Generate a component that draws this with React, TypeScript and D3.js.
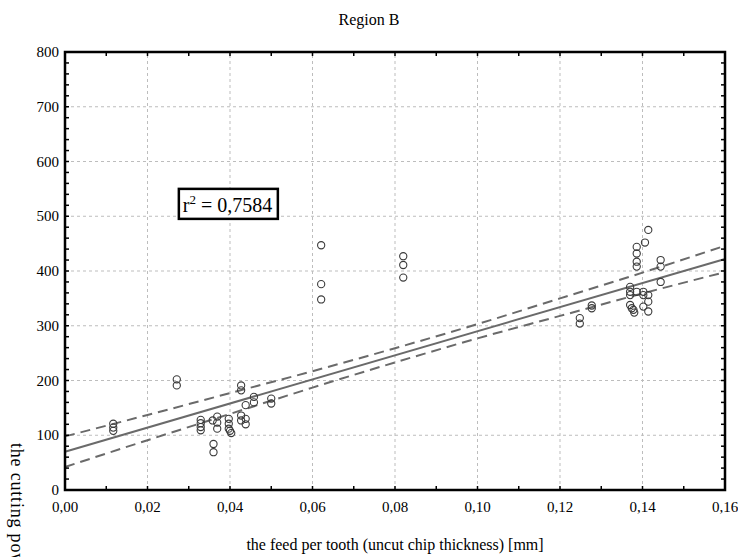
import React from "react";
import * as d3 from "d3";

// feed per tooth [mm] for each measured point
const feedPerTooth = [
  0.0117, 0.0117, 0.0117,
  0.0271, 0.0271,
  0.0329, 0.0329, 0.0329, 0.0329,
  0.0358,
  0.036, 0.036,
  0.0369, 0.0369, 0.0369,
  0.0397, 0.0397, 0.0397,
  0.04, 0.0403,
  0.0427, 0.0427, 0.0427, 0.0427,
  0.0438, 0.0438, 0.0438,
  0.0458, 0.0458,
  0.05, 0.05,
  0.0621, 0.0621, 0.0621,
  0.082, 0.082, 0.082,
  0.1248, 0.1248,
  0.1277, 0.1277,
  0.137, 0.137, 0.137, 0.137,
  0.1374, 0.1378, 0.138,
  0.1386, 0.1386, 0.1386, 0.1386, 0.1386,
  0.1402, 0.1402, 0.1402,
  0.1406,
  0.1414, 0.1414, 0.1414, 0.1414,
  0.1444, 0.1444, 0.1444,
];

// cutting power for the same points
const cuttingPower = [
  121, 114, 108,
  202, 191,
  128, 122, 115, 109,
  127,
  84, 69,
  134, 123, 112,
  130, 121, 112,
  108, 104,
  191, 182, 136, 127,
  155, 130, 120,
  170, 160,
  167, 158,
  447, 376, 348,
  427, 411, 388,
  314, 304,
  337, 332,
  371, 362, 356, 338,
  332, 329, 324,
  444, 432, 417, 408, 362,
  362, 356, 335,
  452,
  475, 356, 344, 326,
  420, 408, 380,
];

// fitted line and its confidence band
const fitX = [0, 0.16];
const fitY = [70, 422];
const bandX = [0, 0.02, 0.04, 0.06, 0.08, 0.1, 0.12, 0.14, 0.16];
const bandUpper = [98, 137, 177, 217, 259, 303, 350, 397, 446];
const bandLower = [42, 91, 139, 187, 233, 277, 318, 359, 398];

const rSquared = "0,7584";
const title = "Region B";
const xTitle = "the feed per tooth (uncut chip thickness) [mm]";
const yTitle = "the cutting power [W]";

const W = 738;
const H = 557;
const margin = { top: 52, right: 13, bottom: 67, left: 65 };
const font = "'Liberation Serif', 'Times New Roman', serif";

export default function App() {
  const x = d3.scaleLinear().domain([0, 0.16]).range([margin.left, W - margin.right]);
  const y = d3.scaleLinear().domain([0, 800]).range([H - margin.bottom, margin.top]);

  const xMajor = x.ticks(8);
  const xMinor = x.ticks(16);
  const yMajor = y.ticks(8);
  const yMinor = y.ticks(40);
  const fmtX = (v: number) => d3.format(".2f")(v).replace(".", ",");

  const [x0, x1] = x.range();
  const [y0, y1] = y.range();

  const fitLine = d3
    .line<number>()
    .x((d) => x(d))
    .y((_, i) => y(fitY[i]));

  const band = (vals: number[]) =>
    d3
      .line<number>()
      .x((d) => x(d))
      .y((_, i) => y(vals[i]))
      .curve(d3.curveMonotoneX)(bandX) || "";

  return (
    <svg
      width={W}
      height={H}
      style={{ position: "absolute", left: 0, top: 0, background: "#fff" }}
      fontFamily={font}
    >
      {/* grid */}
      {xMajor
        .filter((d) => d > 0 && d < 0.16)
        .map((d) => (
          <line key={"gx" + d} x1={x(d)} x2={x(d)} y1={y0} y2={y1} stroke="#bdbdbd" strokeDasharray="3,3" />
        ))}
      {yMajor
        .filter((d) => d > 0 && d < 800)
        .map((d) => (
          <line key={"gy" + d} x1={x0} x2={x1} y1={y(d)} y2={y(d)} stroke="#bdbdbd" strokeDasharray="3,3" />
        ))}

      {/* regression + confidence band */}
      <path d={band(bandUpper)} fill="none" stroke="#6a6a6a" strokeWidth={2} strokeDasharray="10,6" />
      <path d={band(bandLower)} fill="none" stroke="#6a6a6a" strokeWidth={2} strokeDasharray="10,6" />
      <path d={fitLine(fitX) || ""} fill="none" stroke="#6a6a6a" strokeWidth={2} />

      {/* points */}
      {feedPerTooth.map((f, i) => (
        <circle key={i} cx={x(f)} cy={y(cuttingPower[i])} r={3.6} fill="none" stroke="#3a3a3a" strokeWidth={1.1} />
      ))}

      {/* r2 box */}
      <g transform={`translate(${x(0.0276)},${y(550)})`}>
        <rect width={99} height={30} fill="#fff" stroke="#000" strokeWidth={2.5} />
        <text x={4} y={23} fontSize={20}>
          r<tspan fontSize={13} dy={-8}>2</tspan>
          <tspan dy={8}> = {rSquared}</tspan>
        </text>
      </g>

      {/* frame */}
      <rect x={x0} y={y1} width={x1 - x0} height={y0 - y1} fill="none" stroke="#000" strokeWidth={2.5} />
      {xMinor.map((d) => (
        <g key={"tx" + d}>
          <line x1={x(d)} x2={x(d)} y1={y0} y2={y0 - 4} stroke="#000" strokeWidth={1.5} />
          <line x1={x(d)} x2={x(d)} y1={y1} y2={y1 + 4} stroke="#000" strokeWidth={1.5} />
        </g>
      ))}
      {yMinor.map((d) => (
        <g key={"ty" + d}>
          <line x1={x0} x2={x0 + 4} y1={y(d)} y2={y(d)} stroke="#000" strokeWidth={1.5} />
          <line x1={x1} x2={x1 - 4} y1={y(d)} y2={y(d)} stroke="#000" strokeWidth={1.5} />
        </g>
      ))}

      {/* tick labels */}
      {xMajor.map((d) => (
        <text key={"lx" + d} x={x(d)} y={y0 + 22} fontSize={15} textAnchor="middle">
          {fmtX(d)}
        </text>
      ))}
      {yMajor.map((d) => (
        <text key={"ly" + d} x={x0 - 6} y={y(d) + 5} fontSize={15} textAnchor="end">
          {d}
        </text>
      ))}

      <text x={W / 2} y={25} fontSize={16} textAnchor="middle">
        {title}
      </text>
      <text x={(x0 + x1) / 2} y={550} fontSize={16} textAnchor="middle">
        {xTitle}
      </text>
      <text transform={`translate(11,443) rotate(90)`} fontSize={18} letterSpacing={0.8}>
        {yTitle}
      </text>
    </svg>
  );
}
